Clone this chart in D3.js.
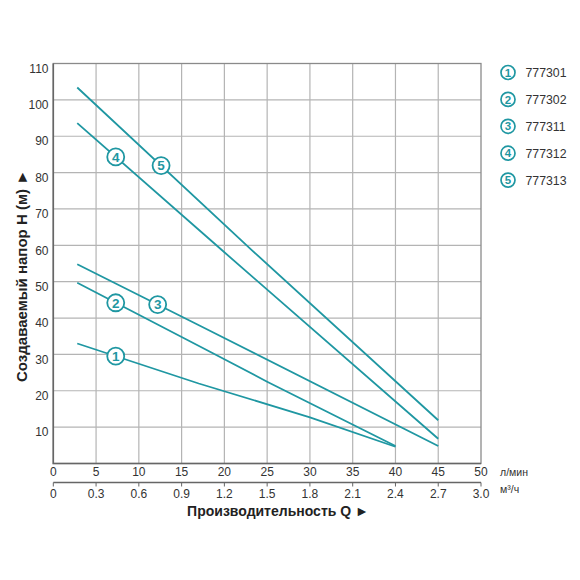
<!DOCTYPE html>
<html><head><meta charset="utf-8">
<script src="https://cdn.jsdelivr.net/npm/d3@7/dist/d3.min.js"></script>
<style>body{margin:0;background:#fff}text{font-family:Arial,"Liberation Sans",sans-serif}</style>
</head><body><svg id="c" width="580" height="580"></svg>
<script>
// ---- data ----
const seriesNames = ["777301","777302","777311","777312","777313"];
const seriesNums = ["1","2","3","4","5"];
const s1Q = [2.8, 17, 30, 40];        const s1H = [33, 22, 12.7, 4.6];
const s2Q = [2.8, 17.2, 25, 40];      const s2H = [49.7, 32.1, 22.5, 4.8];
const s3Q = [2.8, 17.2, 45];          const s3H = [54.8, 37.8, 4.8];
const s4Q = [2.8, 19.7, 45];          const s4H = [93.6, 58.7, 6.8];
const s5Q = [2.8, 23.2, 45];          const s5H = [103.4, 58.7, 11.9];
const markerQ = [7.3, 7.3, 12.2, 7.3, 12.6];
const xTicksLpm = [0,5,10,15,20,25,30,35,40,45,50];
const xTicksM3h = ["0","0.3","0.6","0.9","1.2","1.5","1.8","2.1","2.4","2.7","3.0"];
const yTicks = [10,20,30,40,50,60,70,80,90,100,110];
const yTitle = "Создаваемый напор H (м) ►";
const xTitle = "Производительность Q ►";
const unitLpm = "л/мин";
const unitM3h = "м³/ч";

const seriesQ = [s1Q,s2Q,s3Q,s4Q,s5Q];
const seriesH = [s1H,s2H,s3H,s4H,s5H];
const teal = "#1f97a2";

const svg = d3.select("#c");
const x = d3.scaleLinear().domain([0,50]).range([53.3,481]);
const y = d3.scaleLinear().domain([0,110]).range([463.5,63.5]);

// grid
const g = svg.append("g");
g.selectAll(".vg").data(xTicksLpm.filter(d=>d>0&&d<50)).join("line")
  .attr("x1",d=>x(d)).attr("x2",d=>x(d)).attr("y1",y(0)).attr("y2",y(110))
  .attr("stroke","#b4b4b4").attr("stroke-width",1.2);
g.selectAll(".hg").data(yTicks.filter(d=>d<110)).join("line")
  .attr("x1",x(0)).attr("x2",x(50)).attr("y1",d=>y(d)).attr("y2",d=>y(d))
  .attr("stroke","#b4b4b4").attr("stroke-width",1.2);
// border
g.append("rect").attr("x",x(0)).attr("y",y(110)).attr("width",x(50)-x(0)).attr("height",y(0)-y(110))
  .attr("fill","none").attr("stroke","#8a8a8a").attr("stroke-width",1.3);
g.append("path").attr("d",`M${x(0)},${y(110)}V${y(0)}H${x(50)}`).attr("fill","none").attr("stroke","#666").attr("stroke-width",1.6);

// y tick labels
svg.selectAll(".yl").data(yTicks).join("text")
  .attr("x",48.5).attr("y",d=>y(d)+5).attr("dy","0.35em").attr("text-anchor","end")
  .attr("font-size",12).attr("fill","#333").text(d=>d);

// x tick labels (l/min)
svg.selectAll(".xl").data(xTicksLpm).join("text")
  .attr("x",d=>x(d)).attr("y",471.7).attr("dy","0.35em").attr("text-anchor","middle")
  .attr("font-size",12).attr("fill","#333").text(d=>d);

// second axis
const x2 = d3.scaleLinear().domain([0,3]).range([53.3,481]);
svg.append("line").attr("x1",x2(0)).attr("x2",x2(3)).attr("y1",482.5).attr("y2",482.5).attr("stroke","#666").attr("stroke-width",1.3);
svg.selectAll(".t2").data(xTicksM3h).join("line")
  .attr("x1",d=>x2(+d)).attr("x2",d=>x2(+d)).attr("y1",482.5).attr("y2",486.5).attr("stroke","#666").attr("stroke-width",1);
svg.selectAll(".xl2").data(xTicksM3h).join("text")
  .attr("x",d=>x2(+d)).attr("y",494).attr("dy","0.35em").attr("text-anchor","middle")
  .attr("font-size",12).attr("fill","#333").text(d=>d);

svg.append("text").attr("x",500).attr("y",472).attr("dy","0.35em").attr("font-size",10.5).attr("fill","#333").text(unitLpm);
svg.append("text").attr("x",500).attr("y",489).attr("dy","0.35em").attr("font-size",10.5).attr("fill","#333").text(unitM3h);

// titles
svg.append("text").attr("x",278).attr("y",511).attr("dy","0.35em").attr("text-anchor","middle")
  .attr("font-size",14).attr("font-weight","bold").attr("fill","#222").text(xTitle);
svg.append("text").attr("transform","translate(22,276) rotate(-90)").attr("dy","0.35em").attr("text-anchor","middle")
  .attr("font-size",15).attr("font-weight","bold").attr("fill","#222").text(yTitle);

// lines
const line = d3.line().x(d=>x(d[0])).y(d=>y(d[1]));
seriesQ.forEach((qs,i)=>{
  const pts = qs.map((q,j)=>[q,seriesH[i][j]]);
  svg.append("path").attr("d",line(pts)).attr("fill","none").attr("stroke",teal).attr("stroke-width",1.8);
});
// markers
seriesQ.forEach((qs,i)=>{
  const interp = d3.scaleLinear().domain(qs).range(seriesH[i]);
  const q = markerQ[i], h = interp(q);
  const mg = svg.append("g").attr("transform",`translate(${x(q)},${y(h)})`);
  mg.append("circle").attr("r",8.5).attr("fill","#fff").attr("stroke",teal).attr("stroke-width",1.8);
  mg.append("text").attr("text-anchor","middle").attr("dy","0.36em").attr("font-size",13.5).attr("font-weight","bold").attr("fill",teal).text(seriesNums[i]);
});

// legend
const lg = svg.selectAll(".lg").data(seriesNames).join("g").attr("transform",(d,i)=>`translate(508,${72.5+i*26.9})`);
lg.append("circle").attr("r",7).attr("fill","#fff").attr("stroke",teal).attr("stroke-width",1.7);
lg.append("text").attr("text-anchor","middle").attr("dy","0.36em").attr("font-size",11.5).attr("font-weight","bold").attr("fill",teal).text((d,i)=>seriesNums[i]);
lg.append("text").attr("x",17.5).attr("dy","0.36em").attr("font-size",12.3).attr("fill","#333").text(d=>d);
</script></body></html>
